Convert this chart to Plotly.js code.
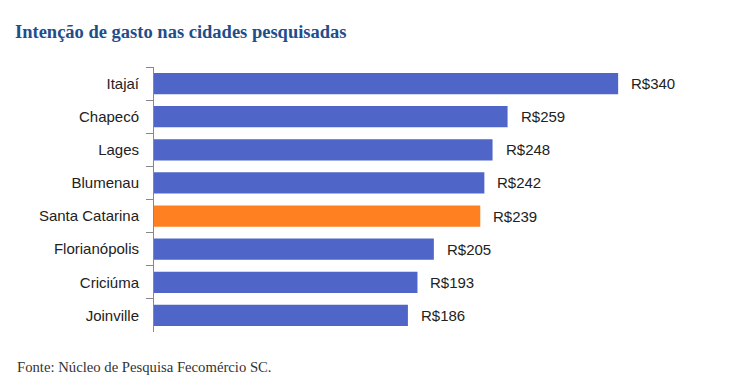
<!DOCTYPE html>
<html><head><meta charset="utf-8">
<script src="https://cdn.plot.ly/plotly-3.0.1.min.js"></script>
<style>body{margin:0;background:#fff}#c{width:753px;height:388px}</style>
</head><body><div id="c"></div>
<script>
const cities = ["Itajaí","Chapecó","Lages","Blumenau","Santa Catarina","Florianópolis","Criciúma","Joinville"];
const values = [340,259,248,242,239,205,193,186];
const highlight = "Santa Catarina";
const colors = cities.map(c => c === highlight ? "#FE8020" : "#4F66C8");
const trace = {type:"bar", orientation:"h", y:cities, x:values,
  marker:{color:colors}, hoverinfo:"none"};
const annotations = cities.map((c,i)=>({x:values[i], y:c, xref:"x", yref:"y",
  text:"R$"+values[i], showarrow:false, xanchor:"left", xshift:11,
  font:{family:"Liberation Sans, Arial", size:15, color:"#222"}}));
annotations.push({xref:"paper", yref:"paper", x:-154/529, y:-0.0, yshift:-35, xshift:15, xanchor:"left", yanchor:"middle",
  text:"Fonte: Núcleo de Pesquisa Fecomércio SC.", showarrow:false,
  font:{family:"Liberation Serif, Times New Roman", size:14.7, color:"#333"}});
const layout = {width:753, height:388, margin:{l:154, r:70, t:67, b:56},
  paper_bgcolor:"#fff", plot_bgcolor:"#fff", showlegend:false, bargap:0.36,
  title:{text:"<b>Intenção de gasto nas cidades pesquisadas</b>", x:15/753, xanchor:"left", y:1-32/388, yanchor:"middle",
    font:{family:"Liberation Serif, Times New Roman", size:18.5, color:"#1F4E8C"}},
  xaxis:{range:[0,387.5], visible:false, fixedrange:true},
  yaxis:{type:"category", autorange:"reversed", showline:true, linecolor:"#888", linewidth:1,
    ticks:"outside", ticklen:7, tickcolor:"#888", tickson:"boundaries", showgrid:false,
    ticklabelstandoff:11,
    tickfont:{family:"Liberation Sans, Arial", size:15, color:"#222"}},
  annotations:annotations};
Plotly.newPlot("c",[trace],layout,{displayModeBar:false, staticPlot:true});
</script></body></html>
